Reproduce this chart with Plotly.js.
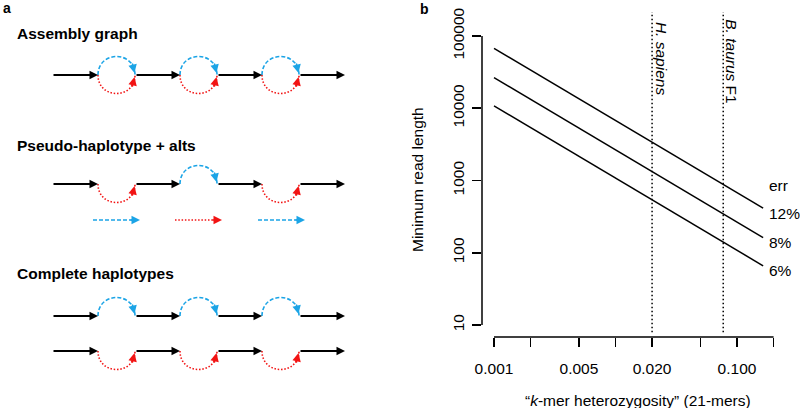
<!DOCTYPE html>
<html><head><meta charset="utf-8">
<script src="https://cdn.plot.ly/plotly-3.0.1.min.js"></script>
<style>html,body{margin:0;padding:0;background:#fff}</style>
</head><body><div id="chart" style="width:800px;height:408px"></div>
<script>
// ---------- Panel b data ----------
const hetX = [0.001, 0.164];                 // k-mer heterozygosity
const err12 = [67600, 415];                  // min read length, err 12%
const err8 = [26500, 162];                   // err 8%
const err6 = [10800, 66];                    // err 6%
const errSeries = [err12, err8, err6];
const errLabels = ['12%', '8%', '6%'];
const refSpecies = ['<i>H. sapiens</i>', '<i>B. taurus</i> F1'];
const refHet = [0.02, 0.077];
const xTickVals = [0.001, 0.002, 0.005, 0.01, 0.02, 0.05, 0.1, 0.2];
const xTickText = ['0.001', '', '0.005', '', '0.020', '', '0.100', ''];
const yTickVals = [10, 100, 1000, 10000, 100000];
const yTickText = ['10', '100', '1000', '10000', '100000'];

// ---------- Panel a diagram ----------
const rowTitles = ['Assembly graph', 'Pseudo-haplotype + alts', 'Complete haplotypes'];
const titleY = [33, 145, 273];
const nodeX = [52, 98, 135, 180, 217, 262, 299, 345];
const pathY = [75, 184, 316, 351];
const bubbleSides = [['both', 'both', 'both'], ['red', 'blue', 'red'], ['blue', 'blue', 'blue'], ['red', 'red', 'red']];
const altX0 = [93, 175, 258];
const altX1 = [140, 222, 305];
const altColor = ['blue', 'red', 'blue'];
const altY = 220;

const BLUE = '#1ba4e6', RED = '#f21313';
const FONT = 'Liberation Sans, Arial, Helvetica, sans-serif';
const FS = 15.5;
const px = x => x / 800, py = y => 1 - y / 408;

const shapes = [], annotations = [];

function head(x, y, ax, ay, color, w, size) {
  annotations.push({xref: 'x2', yref: 'y2', axref: 'x2', ayref: 'y2', x: x, y: y, ax: ax, ay: ay,
    text: '', showarrow: true, arrowhead: 2, arrowsize: size, arrowwidth: w, arrowcolor: color, standoff: 0});
}
function arc(x0, x1, y, s, color, dash) {
  const k = (x1 - x0) / 2 * 4 / 3 * s;
  shapes.push({type: 'path', xref: 'x2', yref: 'y2',
    path: `M ${x0},${y} C ${x0},${y + k} ${x1},${y + k} ${x1},${y}`,
    line: {color: color, width: 1.6, dash: dash}});
  head(x1 - 0.5, y + s * 2, x1 - 3, y + s * 13, color, 1.5, 1.13);
}
const DASH = '4px,2px', DOT = '1.5px,1.8px';

pathY.forEach((y, r) => {
  for (let i = 0; i < nodeX.length; i += 2) head(nodeX[i + 1], y, nodeX[i], y, 'black', 2, 0.85);
  bubbleSides[r].forEach((side, b) => {
    const x0 = nodeX[2 * b + 1], x1 = nodeX[2 * b + 2];
    if (side === 'blue' || side === 'both') arc(x0, x1, y, -1, BLUE, DASH);
    if (side === 'red' || side === 'both') arc(x0, x1, y, 1, RED, DOT);
  });
});
altX0.forEach((x0, i) => {
  const c = altColor[i] === 'blue' ? BLUE : RED;
  shapes.push({type: 'line', xref: 'x2', yref: 'y2', x0: x0, x1: altX1[i] - 7, y0: altY, y1: altY,
    line: {color: c, width: 1.6, dash: altColor[i] === 'blue' ? DASH : DOT}});
  head(altX1[i], altY, altX1[i] - 11, altY, c, 1.5, 1.13);
});
rowTitles.forEach((t, i) => annotations.push({xref: 'x2', yref: 'y2', x: 15, y: titleY[i], xanchor: 'left', yanchor: 'middle',
  text: '<b>' + t + '</b>', showarrow: false, font: {family: FONT, size: FS, color: '#000'}}));

// ---------- Panel b shapes/annotations ----------
refHet.forEach(h => shapes.push({type: 'line', xref: 'x', yref: 'y domain', x0: h, x1: h, y0: 0.015, y1: 1,
  line: {color: '#000', width: 1.5, dash: '1.5px,2.5px'}}));
shapes.push({type: 'line', xref: 'x', yref: 'y domain', x0: xTickVals[0], x1: xTickVals[xTickVals.length - 1], y0: 0, y1: 0,
  line: {color: '#000', width: 1.5}});
shapes.push({type: 'line', xref: 'x domain', yref: 'y', x0: 0, x1: 0, y0: yTickVals[0], y1: yTickVals[yTickVals.length - 1],
  line: {color: '#000', width: 1.5}});

const spY = [58.5, 61.5], spShift = [9.5, 8];
refSpecies.forEach((s, i) => annotations.push({xref: 'x', yref: 'paper', x: Math.log10(refHet[i]), y: py(spY[i]),
  xshift: spShift[i], xanchor: 'center', yanchor: 'middle', textangle: 90, text: s, showarrow: false,
  font: {family: FONT, size: FS, color: '#000'}}));

errSeries.forEach((s, i) => annotations.push({xref: 'x', yref: 'y', x: Math.log10(hetX[hetX.length - 1]),
  y: Math.log10(s[s.length - 1]), xanchor: 'left', yanchor: 'middle', xshift: 4, yshift: -5, text: errLabels[i],
  showarrow: false, font: {family: FONT, size: FS, color: '#000'}}));
annotations.push({xref: 'x', yref: 'y', x: Math.log10(hetX[hetX.length - 1]), y: Math.log10(err12[err12.length - 1]),
  xanchor: 'left', yanchor: 'middle', xshift: 4, yshift: 23, text: 'err', showarrow: false,
  font: {family: FONT, size: FS, color: '#000'}});

annotations.push({xref: 'paper', yref: 'paper', x: px(417), y: py(180), textangle: -90, text: 'Minimum read length',
  showarrow: false, xanchor: 'center', yanchor: 'middle', font: {family: FONT, size: FS, color: '#000'}});
annotations.push({xref: 'paper', yref: 'paper', x: px(638), y: py(400), text: '\u201c<i>k</i>-mer heterozygosity\u201d (21-mers)',
  showarrow: false, xanchor: 'center', yanchor: 'middle', font: {family: FONT, size: FS, color: '#000'}});
annotations.push({xref: 'paper', yref: 'paper', x: px(1), y: py(8), text: '<b>a</b>', showarrow: false,
  xanchor: 'left', yanchor: 'middle', font: {family: FONT, size: 14, color: '#000'}});
annotations.push({xref: 'paper', yref: 'paper', x: px(418), y: py(9), text: '<b>b</b>', showarrow: false,
  xanchor: 'left', yanchor: 'middle', font: {family: FONT, size: 14, color: '#000'}});

const traces = errSeries.map(s => ({x: hetX, y: s, mode: 'lines', line: {color: '#000', width: 1.5},
  xaxis: 'x', yaxis: 'y', hoverinfo: 'skip'}));
traces.push({x: [0], y: [0], xaxis: 'x2', yaxis: 'y2', mode: 'markers', marker: {opacity: 0}, hoverinfo: 'skip'});

const layout = {
  width: 800, height: 408, margin: {l: 0, r: 0, t: 0, b: 0}, showlegend: false,
  paper_bgcolor: '#fff', plot_bgcolor: '#fff',
  font: {family: FONT, size: FS, color: '#000'},
  xaxis: {type: 'log', domain: [px(482), px(785)], range: [-3.0988, -0.605], anchor: 'y',
    tickvals: xTickVals, ticktext: xTickText, ticks: 'outside', ticklen: 9, tickwidth: 1.5, tickcolor: '#000',
    ticklabelstandoff: 8,
    showline: false, showgrid: false, zeroline: false, tickfont: {family: FONT, size: FS, color: '#000'}},
  yaxis: {type: 'log', domain: [py(337), py(12)], range: [0.834, 5.332], anchor: 'x',
    tickvals: yTickVals, ticktext: yTickText, ticks: 'outside', ticklen: 9, tickwidth: 1.5, tickcolor: '#000',
    ticklabelstandoff: 2,
    tickangle: -90, showline: false, showgrid: false, zeroline: false, tickfont: {family: FONT, size: FS, color: '#000'}},
  xaxis2: {domain: [0, px(370)], range: [0, 370], anchor: 'y2', visible: false},
  yaxis2: {domain: [0, 1], range: [408, 0], anchor: 'x2', visible: false},
  shapes: shapes, annotations: annotations
};
Plotly.newPlot('chart', traces, layout, {displayModeBar: false, staticPlot: true});
</script></body></html>
